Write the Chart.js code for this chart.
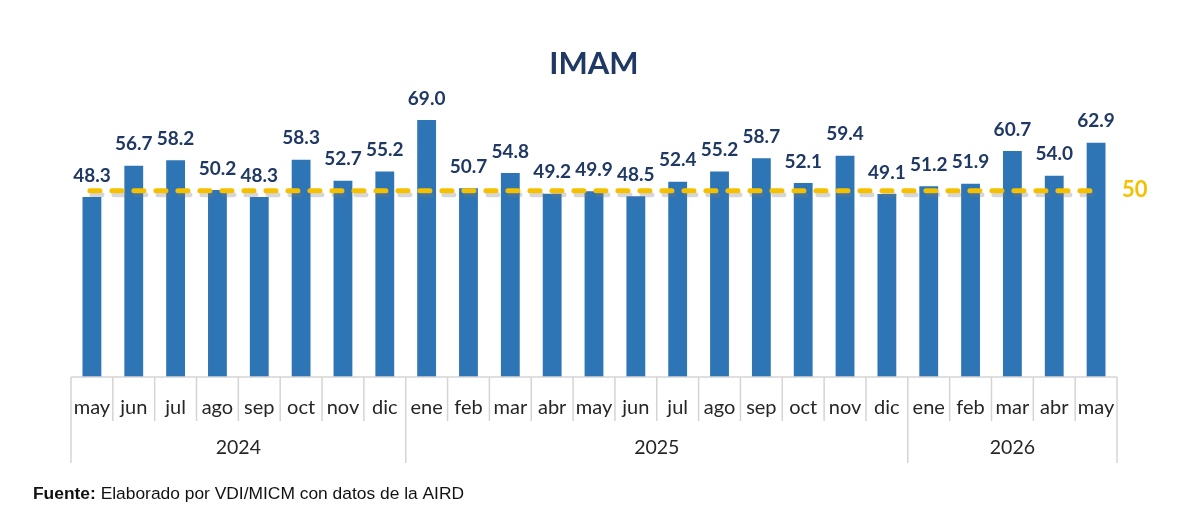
<!DOCTYPE html>
<html lang="es">
  <head>
    <meta charset="UTF-8" />
    <title>IMAM</title>
    <script src="https://cdn.jsdelivr.net/npm/chart.js@4.4.1/dist/chart.umd.min.js"></script>
    <style>
      html, body { margin: 0; padding: 0; background: #fff; }
      #wrap { width: 1200px; height: 516px; position: relative; }
    </style>
  </head>
  <body>
    <div id="wrap"><canvas id="imamChart"></canvas></div>
    <script>
      // data
      const months = ["may", "jun", "jul", "ago", "sep", "oct", "nov", "dic",
        "ene", "feb", "mar", "abr", "may", "jun", "jul", "ago", "sep", "oct", "nov", "dic",
        "ene", "feb", "mar", "abr", "may"];
      const years = ["2024", "2025", "2026"];
      const yearCounts = [8, 12, 5];
      const imamValues = [48.3, 56.7, 58.2, 50.2, 48.3, 58.3, 52.7, 55.2,
        69.0, 50.7, 54.8, 49.2, 49.9, 48.5, 52.4, 55.2, 58.7, 52.1, 59.4, 49.1,
        51.2, 51.9, 60.7, 54.0, 62.9];
      const threshold = 50;

      const navy = "#1F3864";
      const gold = "#F5C000";
      const sepColor = "#D4D4D4";

      const extrasPlugin = {
        id: "extras",
        afterDatasetsDraw(chart) {
          const { ctx, chartArea, scales } = chart;
          const x = scales.x, y = scales.y;
          const meta = chart.getDatasetMeta(0);

          // value labels
          ctx.save();
          ctx.fillStyle = navy;
          ctx.font = "bold 19px Lato, 'Open Sans', sans-serif";
          ctx.textAlign = "center";
          ctx.textBaseline = "bottom";
          meta.data.forEach((bar, i) => {
            ctx.fillText(imamValues[i].toFixed(1), bar.x, bar.y - 12);
          });
          ctx.restore();

          // threshold line at 50
          const yl = y.getPixelForValue(threshold);
          const x0 = x.getPixelForValue(0) - 2;
          const x1 = x.getPixelForValue(months.length - 1) + 4;
          ctx.save();
          ctx.lineWidth = 5;
          ctx.lineCap = "round";
          ctx.setLineDash([10, 12]);
          ctx.strokeStyle = "rgba(120,120,120,0.3)";
          ctx.beginPath();
          ctx.moveTo(x0 + 2, yl + 4);
          ctx.lineTo(x1 + 2, yl + 4);
          ctx.stroke();
          ctx.strokeStyle = gold;
          ctx.beginPath();
          ctx.moveTo(x0, yl);
          ctx.lineTo(x1, yl);
          ctx.stroke();
          ctx.setLineDash([]);
          ctx.fillStyle = gold;
          ctx.font = "bold 22px Lato, 'Open Sans', sans-serif";
          ctx.textAlign = "left";
          ctx.textBaseline = "middle";
          ctx.fillText(String(threshold), chartArea.right + 5, yl - 1);
          ctx.restore();
        },
        afterDraw(chart) {
          const { ctx, chartArea, scales } = chart;
          const x = scales.x;
          const step = x.getPixelForValue(1) - x.getPixelForValue(0);
          const bottom = chartArea.bottom;

          ctx.save();
          ctx.strokeStyle = sepColor;
          ctx.lineWidth = 1.5;
          // baseline
          ctx.beginPath();
          ctx.moveTo(chartArea.left, bottom);
          ctx.lineTo(chartArea.right, bottom);
          ctx.stroke();
          // month separators
          for (let i = 0; i <= months.length; i++) {
            const px = x.getPixelForValue(i) - step / 2;
            ctx.beginPath();
            ctx.moveTo(px, bottom);
            ctx.lineTo(px, bottom + 44);
            ctx.stroke();
          }
          // year separators and labels
          let start = 0;
          ctx.fillStyle = "#262626";
          ctx.font = "19.5px Lato, 'Open Sans', sans-serif";
          ctx.textAlign = "center";
          ctx.textBaseline = "middle";
          const edges = [start];
          yearCounts.forEach((n, k) => {
            const l = x.getPixelForValue(start) - step / 2;
            const r = x.getPixelForValue(start + n - 1) + step / 2;
            ctx.fillText(years[k], (l + r) / 2, bottom + 71);
            start += n;
            edges.push(start);
          });
          edges.forEach((e) => {
            const px = x.getPixelForValue(e) - step / 2;
            ctx.beginPath();
            ctx.moveTo(px, bottom + 44);
            ctx.lineTo(px, bottom + 86);
            ctx.stroke();
          });

          // source note
          ctx.fillStyle = "#111";
          ctx.textAlign = "left";
          ctx.textBaseline = "middle";
          ctx.font = "bold 17.4px 'Liberation Sans', Arial, sans-serif";
          const lbl = "Fuente:";
          ctx.fillText(lbl, 33, 494);
          const w = ctx.measureText(lbl).width;
          ctx.font = "17.4px 'Liberation Sans', Arial, sans-serif";
          ctx.fillText(" Elaborado por VDI/MICM con datos de la AIRD", 33 + w, 494);
          ctx.restore();
        },
      };

      new Chart(document.getElementById("imamChart"), {
        type: "bar",
        data: {
          labels: months,
          datasets: [
            {
              label: "IMAM",
              data: imamValues,
              backgroundColor: "#2E75B6",
              borderWidth: 0,
              categoryPercentage: 1,
              barPercentage: 0.45,
            },
          ],
        },
        options: {
          responsive: true,
          maintainAspectRatio: false,
          animation: false,
          layout: {
            padding: { left: 71, right: 83, top: 0, bottom: 77 },
          },
          plugins: {
            legend: { display: false },
            tooltip: { enabled: false },
            title: {
              display: true,
              text: "IMAM",
              color: navy,
              font: { family: "Lato, 'Open Sans', sans-serif", size: 31, weight: "bold" },
              padding: { top: 45, bottom: 8 },
            },
          },
          scales: {
            x: {
              grid: { display: false, drawTicks: false },
              border: { display: false },
              ticks: {
                color: "#262626",
                font: { family: "Lato, 'Open Sans', sans-serif", size: 20 },
                padding: 19,
                maxRotation: 0,
                autoSkip: false,
              },
            },
            y: {
              display: false,
              min: 0,
              max: 77,
            },
          },
        },
        plugins: [extrasPlugin],
      });
    </script>
  </body>
</html>
